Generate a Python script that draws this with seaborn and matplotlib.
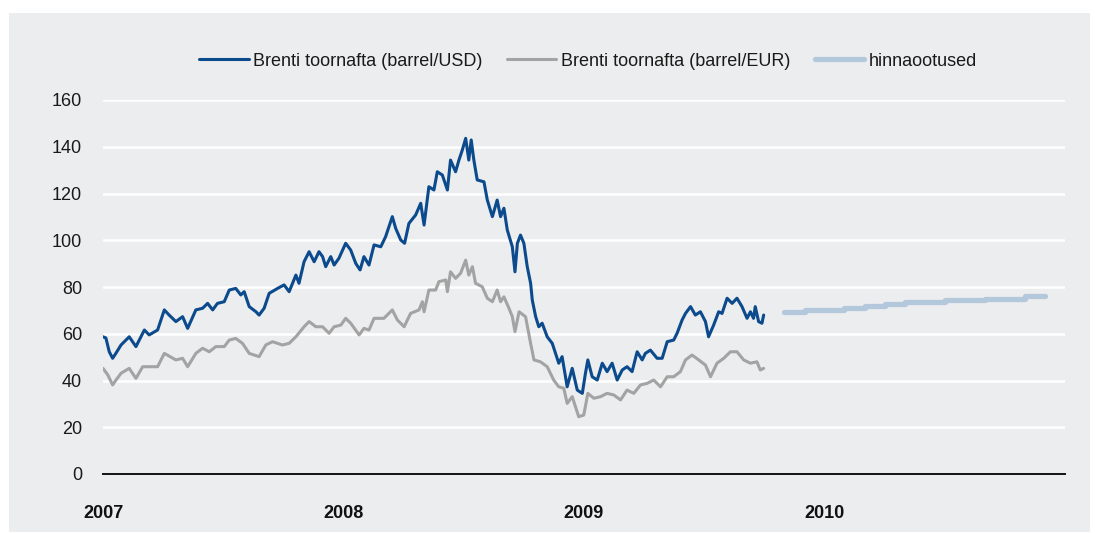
import matplotlib
matplotlib.use("Agg")
import matplotlib.pyplot as plt
import seaborn as sns
import pandas as pd
from matplotlib.patches import Rectangle

# ---- data (decimal years, values) ----
usd_t = [2007.000, 2007.012, 2007.026, 2007.040, 2007.054, 2007.075, 2007.109, 2007.137, 2007.172, 2007.192,
         2007.227, 2007.255, 2007.275, 2007.303, 2007.331, 2007.352, 2007.386, 2007.414, 2007.435, 2007.456,
         2007.476, 2007.504, 2007.525, 2007.552, 2007.573, 2007.587, 2007.608, 2007.636, 2007.649, 2007.670,
         2007.691, 2007.726, 2007.753, 2007.774, 2007.802, 2007.815, 2007.836, 2007.857, 2007.878, 2007.898,
         2007.913, 2007.926, 2007.947, 2007.961, 2007.981, 2008.009, 2008.030, 2008.051, 2008.069, 2008.085,
         2008.106, 2008.127, 2008.155, 2008.175, 2008.203, 2008.217, 2008.238, 2008.254, 2008.272, 2008.300,
         2008.321, 2008.335, 2008.355, 2008.376, 2008.390, 2008.411, 2008.432, 2008.445, 2008.466, 2008.480,
         2008.494, 2008.508, 2008.521, 2008.531, 2008.542, 2008.556, 2008.584, 2008.598, 2008.619, 2008.639,
         2008.653, 2008.667, 2008.681, 2008.702, 2008.713, 2008.723, 2008.736, 2008.750, 2008.764, 2008.778,
         2008.785, 2008.799, 2008.812, 2008.826, 2008.847, 2008.868, 2008.895, 2008.909, 2008.916, 2008.930,
         2008.951, 2008.972, 2008.993, 2009.006, 2009.016, 2009.034, 2009.055, 2009.076, 2009.096, 2009.117,
         2009.138, 2009.159, 2009.179, 2009.200, 2009.221, 2009.242, 2009.255, 2009.276, 2009.304, 2009.325,
         2009.346, 2009.373, 2009.387, 2009.408, 2009.422, 2009.443, 2009.463, 2009.484, 2009.505, 2009.518,
         2009.539, 2009.560, 2009.574, 2009.595, 2009.616, 2009.636, 2009.657, 2009.678, 2009.692, 2009.705,
         2009.712, 2009.726, 2009.740, 2009.747]
usd_v = [58.7, 58.2, 52.3, 49.5, 51.7, 55.2, 58.7, 54.5, 61.6, 59.5,
         61.6, 70.2, 68.0, 65.2, 67.3, 62.3, 70.2, 70.9, 73.0, 70.2,
         73.0, 73.7, 78.7, 79.4, 76.6, 78.0, 71.6, 69.4, 68.0, 70.9,
         77.3, 79.4, 80.9, 78.0, 85.1, 81.6, 90.8, 95.1, 90.8, 95.1,
         93.0, 88.7, 93.0, 89.4, 92.3, 98.7, 95.8, 90.1, 87.3, 93.0,
         89.4, 98.0, 97.2, 101.5, 110.1, 105.1, 100.1, 98.7, 107.2, 110.8,
         115.8, 106.5, 122.9, 121.5, 129.3, 127.9, 121.5, 134.3, 129.3, 134.3,
         138.6, 143.6, 134.3, 142.9, 134.3, 125.8, 125.0, 117.2, 110.1, 117.2,
         110.1, 113.7, 104.4, 97.2, 86.5, 98.7, 102.2, 98.7, 88.7, 81.6,
         74.4, 67.3, 63.0, 64.5, 58.7, 55.9, 47.4, 50.2, 45.9, 37.3,
         45.2, 35.9, 34.5, 43.1, 48.8, 41.6, 40.2, 47.4, 43.8, 47.4,
         40.2, 44.5, 45.9, 43.8, 52.3, 48.8, 51.6, 53.0, 49.5, 49.5,
         56.6, 57.3, 60.2, 65.9, 68.7, 71.6, 68.0, 69.4, 65.2, 58.7,
         63.7, 69.4, 68.7, 75.2, 73.0, 75.2, 71.6, 66.6, 69.4, 66.6,
         71.6, 65.2, 64.5, 68.0]

eur_t = [2007.000, 2007.020, 2007.040, 2007.054, 2007.075, 2007.109, 2007.137, 2007.165, 2007.192, 2007.227,
         2007.255, 2007.303, 2007.331, 2007.352, 2007.386, 2007.414, 2007.442, 2007.469, 2007.504, 2007.525,
         2007.552, 2007.580, 2007.608, 2007.649, 2007.677, 2007.705, 2007.746, 2007.774, 2007.802, 2007.836,
         2007.857, 2007.885, 2007.913, 2007.940, 2007.961, 2007.989, 2008.009, 2008.030, 2008.065, 2008.085,
         2008.106, 2008.127, 2008.168, 2008.203, 2008.224, 2008.252, 2008.279, 2008.314, 2008.328, 2008.335,
         2008.355, 2008.383, 2008.397, 2008.425, 2008.432, 2008.445, 2008.466, 2008.487, 2008.508, 2008.521,
         2008.536, 2008.549, 2008.577, 2008.598, 2008.619, 2008.639, 2008.653, 2008.667, 2008.688, 2008.702,
         2008.713, 2008.730, 2008.757, 2008.778, 2008.792, 2008.819, 2008.847, 2008.874, 2008.895, 2008.916,
         2008.930, 2008.951, 2008.978, 2008.999, 2009.016, 2009.041, 2009.069, 2009.096, 2009.124, 2009.152,
         2009.179, 2009.207, 2009.235, 2009.263, 2009.290, 2009.318, 2009.346, 2009.373, 2009.401, 2009.422,
         2009.449, 2009.477, 2009.505, 2009.526, 2009.553, 2009.581, 2009.609, 2009.636, 2009.664, 2009.692,
         2009.719, 2009.733, 2009.747]
eur_v = [45.2, 42.4, 38.1, 40.2, 43.1, 45.2, 40.9, 45.9, 45.9, 45.9,
         51.6, 48.8, 49.5, 45.9, 51.6, 53.8, 52.3, 54.5, 54.5, 57.3,
         58.0, 55.9, 51.6, 50.2, 55.2, 56.6, 55.2, 55.9, 58.7, 63.0,
         65.2, 63.0, 63.0, 60.2, 63.0, 63.7, 66.6, 64.5, 59.5, 62.3,
         61.6, 66.6, 66.6, 70.2, 65.9, 63.0, 68.7, 70.2, 73.7, 69.4,
         78.7, 78.7, 82.3, 83.0, 78.0, 86.5, 83.7, 85.9, 91.5, 85.1,
         88.7, 81.6, 80.1, 75.2, 73.7, 78.7, 73.7, 75.8, 70.9, 67.3,
         60.9, 69.4, 67.3, 55.9, 48.8, 48.0, 45.9, 40.2, 37.3, 36.7,
         30.2, 33.1, 24.5, 25.2, 34.5, 32.4, 33.1, 34.5, 33.8, 31.7,
         35.9, 34.5, 38.1, 38.8, 40.2, 37.3, 41.6, 41.6, 43.8, 48.8,
         50.9, 48.8, 46.6, 41.6, 47.4, 49.5, 52.3, 52.3, 48.8, 47.4,
         48.0, 44.5, 45.2]

fc_t = [2009.833, 2009.917, 2010.000, 2010.083, 2010.167, 2010.250, 2010.333, 2010.417,
        2010.500, 2010.583, 2010.667, 2010.750, 2010.833, 2010.917]
fc_v = [69.4, 70.0, 70.2, 71.2, 71.9, 72.6, 73.4, 73.4, 74.3, 74.3, 75.0, 75.0, 76.0, 76.0]

year_ticks = [2007, 2008, 2009, 2010]
year_labels = ["2007", "2008", "2009", "2010"]
y_ticks = [0, 20, 40, 60, 80, 100, 120, 140, 160]

labels = ["Brenti toornafta (barrel/USD)", "Brenti toornafta (barrel/EUR)", "hinnaootused"]

# ---- style ----
sns.set_theme(style="darkgrid")
plt.rcParams["font.family"] = ["Liberation Sans", "DejaVu Sans"]

BG = "#ecedee"
C_USD = "#0b4a8c"
C_EUR = "#a3a3a3"
C_FC = "#b4c8dc"

fig = plt.figure(figsize=(10.95, 5.33), dpi=100, facecolor="white")
fig.patches.append(Rectangle((9 / 1095, 1 / 533), 1081 / 1095, 519 / 533,
                             transform=fig.transFigure, facecolor=BG, edgecolor="none", zorder=-10))

ax = fig.add_axes([103 / 1095, 1 - 474 / 533, (1065 - 103) / 1095, (474 - 100) / 533])
ax.set_facecolor(BG)

df_usd = pd.DataFrame({"t": usd_t, "v": usd_v})
df_eur = pd.DataFrame({"t": eur_t, "v": eur_v})
df_fc = pd.DataFrame({"t": fc_t, "v": fc_v})

sns.lineplot(data=df_usd, x="t", y="v", ax=ax, color=C_USD, linewidth=2.2, label=labels[0], zorder=4)
sns.lineplot(data=df_eur, x="t", y="v", ax=ax, color=C_EUR, linewidth=2.2, label=labels[1], zorder=3)
sns.lineplot(data=df_fc, x="t", y="v", ax=ax, color=C_FC, linewidth=3.8, label=labels[2],
             drawstyle="steps-post", zorder=3)

ax.set_xlim(2007.0, 2011.0)
ax.set_ylim(0, 160)
ax.set_yticks(y_ticks)
ax.set_yticklabels([str(v) for v in y_ticks], fontsize=13, color="#1a1a1a")
ax.set_xticks(year_ticks)
ax.set_xticklabels(year_labels, fontsize=13, fontweight="bold", color="#111111")
ax.tick_params(axis="y", length=0, pad=15)
ax.tick_params(axis="x", length=0, pad=22)
ax.set_xlabel("")
ax.set_ylabel("")

ax.grid(False)
ax.yaxis.grid(True, color="white", linewidth=1.8)
ax.xaxis.grid(False)
for s in ["top", "right", "left"]:
    ax.spines[s].set_visible(False)
ax.spines["bottom"].set_visible(True)
ax.spines["bottom"].set_color("#111111")
ax.spines["bottom"].set_linewidth(1.4)
ax.spines["bottom"].set_zorder(5)

handles, labs = ax.get_legend_handles_labels()
ax.legend_.remove()
leg = fig.legend(handles, labs, loc="center", bbox_to_anchor=(588 / 1095, 1 - 61 / 533), ncol=3,
                 frameon=False, fontsize=13, handlelength=2.75, handletextpad=0.25, columnspacing=1.35)
for t in leg.get_texts():
    t.set_color("#1a1a1a")

fig.savefig("out.png", dpi=100, facecolor="white")
